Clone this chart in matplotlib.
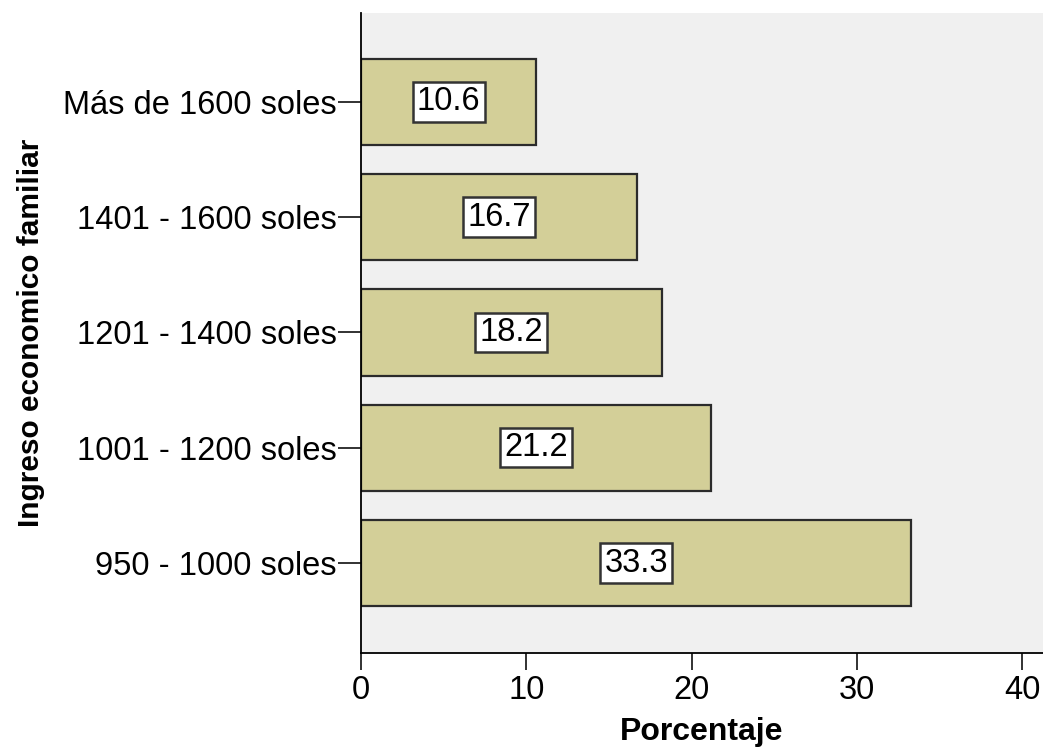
import matplotlib
matplotlib.use("Agg")
from matplotlib import pyplot as plt

# Data
categories = ["950 - 1000 soles", "1001 - 1200 soles", "1201 - 1400 soles",
              "1401 - 1600 soles", "Más de 1600 soles"]
percentages = [33.3, 21.2, 18.2, 16.7, 10.6]
xticks = [0, 10, 20, 30, 40]

plt.rcParams["font.family"] = ["Liberation Sans", "DejaVu Sans"]

fig = plt.figure(figsize=(10.43, 7.47), dpi=100)
ax = fig.add_axes([0.3461, 0.1258, 0.6539, 0.8568])
ax.set_facecolor("#f0f0f0")

ypos = list(range(len(categories)))
bars = ax.barh(ypos, percentages, height=0.75, color="#d3cf98",
               edgecolor="#2b2b2b", linewidth=1.6, zorder=2)

# Value labels in white boxes, centred in each bar
for b, v in zip(bars, percentages):
    ax.text(b.get_width() / 2, b.get_y() + b.get_height() / 2, f"{v:.1f}",
            ha="center", va="center", fontsize=23.5, zorder=3,
            bbox=dict(boxstyle="square,pad=0.13", facecolor="white",
                      edgecolor="#333333", linewidth=1.8))

# Presentation
ax.set_xlim(0, 41.26)
ax.set_ylim(-0.78, 4.77)
ax.set_yticks(ypos)
ax.set_yticklabels(categories, fontsize=23.5)
ax.set_xticks(xticks)
ax.set_xticklabels([str(t) for t in xticks], fontsize=23.5)
ax.tick_params(axis="y", length=16.5, width=1.3, pad=1, color="#222222")
ax.tick_params(axis="x", length=12, width=1.3, pad=4, color="#222222")
ax.set_xlabel("Porcentaje", fontsize=23, fontweight="bold", labelpad=8)
ax.set_ylabel("Ingreso economico familiar", fontsize=21.5, fontweight="bold")
ax.yaxis.set_label_coords(-0.463, 0.5)
ax.spines["top"].set_visible(False)
ax.spines["right"].set_visible(False)
ax.spines["left"].set_linewidth(1.3)
ax.spines["bottom"].set_linewidth(1.3)

fig.savefig("out.png", dpi=100)
